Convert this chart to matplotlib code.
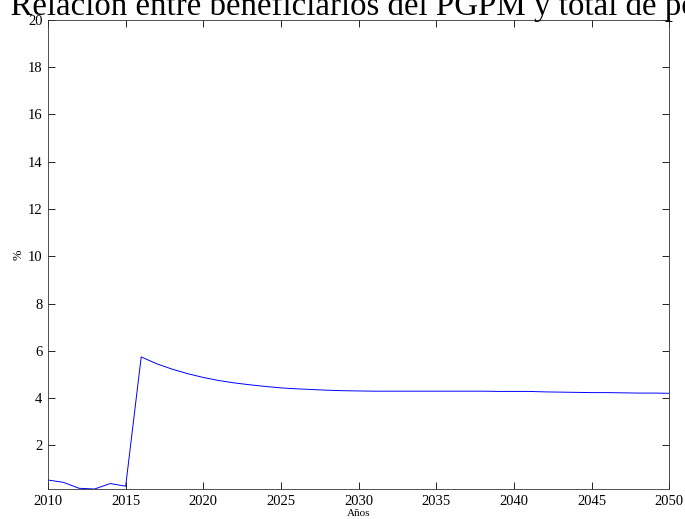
import numpy as np
import matplotlib.pyplot as plt

plt.rcParams['font.family'] = ['Liberation Serif', 'DejaVu Serif']

# Relación entre beneficiarios del PGPM y total de población (%)
years = np.arange(2010, 2051)
pct = [0.53, 0.43, 0.18, 0.15, 0.38, 0.27, 5.74, 5.45, 5.22, 5.03,
       4.87, 4.74, 4.64, 4.56, 4.49, 4.43, 4.39, 4.36, 4.33, 4.31,
       4.30, 4.29, 4.29, 4.29, 4.29, 4.29, 4.29, 4.29, 4.29, 4.28,
       4.28, 4.28, 4.26, 4.25, 4.24, 4.23, 4.23, 4.22, 4.21, 4.21,
       4.20]
xticks = np.arange(2010, 2051, 5)
yticks = np.arange(2, 21, 2)

prefix = 'Gráfico 5: '
title = prefix + 'Relación entre beneficiarios del PGPM y total de población'

fig = plt.figure(figsize=(6.85, 5.19), dpi=100)
ax = fig.add_axes([0.0701, 0.0578, 0.9069, 0.9037])

ax.plot(years, pct, color='#0000ff', linewidth=0.7)

ax.set_xlim(2010, 2050)
ax.set_ylim(0.15, 20)
ax.set_xticks(xticks)
ax.set_yticks(yticks)
ax.tick_params(direction='in', top=True, right=True, labelsize=10.5,
               length=5, width=0.6, pad=4)
for s in ax.spines.values():
    s.set_linewidth(0.6)
    s.set_color('#333333')

ax.set_xlabel('Años', fontsize=8, labelpad=1)
ax.set_ylabel('%', fontsize=9, labelpad=2)

# title is wider than the figure: place it so "Relación" starts near x=10px
renderer = fig.canvas.get_renderer()
tmp = fig.text(0, 0, prefix.replace(' ', '\u00a0'), fontsize=23.7)
pw = tmp.get_window_extent(renderer).width
tmp.remove()
fig.text((10 - pw) / 685, (519 - 15) / 519, title,
         ha='left', va='baseline', fontsize=23.7)

fig.savefig('out.png', dpi=100)
